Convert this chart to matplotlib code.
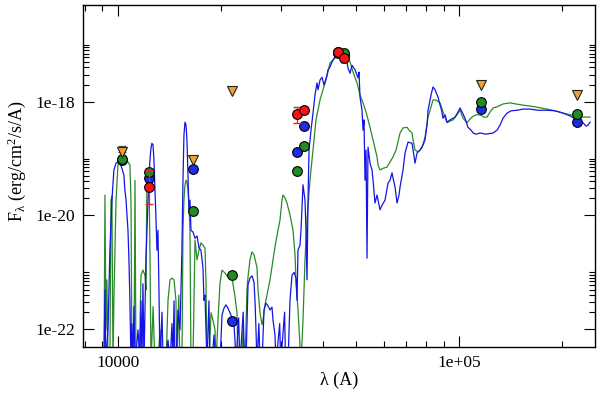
import numpy as np
import matplotlib
matplotlib.use('Agg')
import matplotlib.pyplot as plt
from matplotlib.ticker import FixedLocator, NullFormatter, FixedFormatter

plt.rcParams['font.family'] = 'Liberation Serif'
plt.rcParams['mathtext.fontset'] = 'custom'
plt.rcParams['mathtext.rm'] = 'Liberation Serif'
plt.rcParams['mathtext.it'] = 'Liberation Serif:italic'

# model spectra: wavelength (micron) and log10 flux (erg/cm2/s/A); -22.6 = below plot floor
blue_wl = [0.912, 0.918, 0.924, 0.937, 0.949, 0.962, 0.975, 0.989, 1.002, 1.016, 1.029, 1.043, 1.050,
           1.058, 1.065, 1.072, 1.079, 1.086, 1.094, 1.101, 1.108, 1.116, 1.124, 1.147, 1.162, 1.170,
           1.178, 1.186, 1.194, 1.210, 1.227, 1.243,
           1.252, 1.260, 1.269, 1.277, 1.286, 1.295, 1.303, 1.312, 1.321, 1.330, 1.348, 1.358, 1.375,
           1.404, 1.423, 1.442, 1.452, 1.462, 1.472,
           1.481, 1.502, 1.522, 1.542, 1.553, 1.563, 1.574, 1.585, 1.595, 1.606, 1.617, 1.628, 1.639,
           1.661, 1.684, 1.707, 1.730, 1.753, 1.777, 1.789, 1.801, 1.813, 1.826, 1.850, 1.862, 1.888,
           1.914, 1.940,
           1.993, 2.020, 2.047, 2.075, 2.103, 2.132, 2.161, 2.190, 2.205, 2.220, 2.260, 2.280, 2.330,
           2.350, 2.374, 2.407, 2.439,
           2.472, 2.506, 2.523, 2.540, 2.557, 2.590, 2.610, 2.645, 2.681, 2.717, 2.754, 2.792, 2.829,
           2.849, 2.887, 2.907, 2.980, 3.000, 3.080, 3.100, 3.152, 3.194, 3.238, 3.282, 3.326, 3.349,
           3.371, 3.417, 3.440, 3.487, 3.534, 3.558,
           3.582, 3.607, 3.631, 3.655, 3.680, 3.730, 3.781, 3.832, 3.858, 3.910, 3.963, 4.017, 4.099,
           4.127, 4.183, 4.240, 4.326, 4.414, 4.474, 4.535, 4.597, 4.691, 4.723, 4.787, 4.852, 4.951,
           5.052, 5.086, 5.120, 5.190, 5.225, 5.260, 5.296, 5.332, 5.368, 5.404, 5.477, 5.551, 5.589,
           5.665, 5.742, 5.859, 5.939, 6.060, 6.184, 6.268, 6.353, 6.396, 6.483, 6.571, 6.660, 6.705,
           6.842, 6.935, 7.077, 7.270, 7.319, 7.418, 7.519, 7.673, 7.830, 7.936, 8.043, 8.098, 8.263,
           8.375, 8.489, 8.663, 8.780, 8.839, 8.959, 9.081, 9.204, 9.392, 9.584, 9.714, 9.913, 10.05,
           10.18, 10.39, 10.60, 10.82, 10.97, 11.19, 11.50, 11.97, 12.55, 12.89, 13.16, 13.42, 13.79,
           14.17, 14.75, 15.36, 16.11, 17.00, 18.06, 19.06, 20.12, 21.09, 22.11, 23.02, 23.49, 23.81,
           24.13]
blue_logf = [-22.6, -21.31, -22.6, -22.01, -20.61, -19.73, -19.20, -19.08, -19.06, -19.08, -19.17, -19.29,
             -19.55, -19.73, -19.99, -20.26, -20.78, -21.49, -22.6, -21.9, -22.6, -21.6, -22.6, -22.01,
             -22.6, -21.5, -22.6, -21.2, -22.6, -20.78,
             -19.73, -19.02, -18.81, -18.73, -18.76, -19.02, -19.55, -20.08, -20.61, -20.26, -21.31,
             -22.6, -21.7, -22.6, -22.6, -22.19, -22.6, -21.9, -22.6, -21.5, -22.6,
             -22.6, -21.66, -22.01, -20.61, -19.38, -18.59, -18.36, -18.41,
             -18.67, -19.29, -19.90, -19.73, -20.26, -20.29, -20.40, -20.36, -20.57, -20.61, -20.92,
             -21.49, -21.40, -22.01, -22.6, -21.5, -22.6, -22.6, -22.10, -22.6, -22.6, -21.75, -21.63,
             -21.57, -21.63, -21.71, -21.80, -21.92, -22.19, -22.6, -21.8, -22.6, -21.7, -22.6,
             -22.6, -21.22, -21.10, -21.06, -21.17, -21.49, -22.01,
             -22.6, -21.9, -22.6, -22.6, -21.66, -21.54, -21.59, -21.66, -21.61, -21.84, -22.10, -22.6,
             -21.9, -22.6, -21.7, -22.6, -22.6, -21.49,
             -21.05, -21.00, -21.10, -21.49, -20.61, -20.52, -20.26, -19.46, -19.73, -20.26, -21.13,
             -19.73, -18.85, -18.67, -18.50, -18.20, -17.88, -17.67, -17.79, -17.62, -17.57, -17.71,
             -17.53, -17.44, -17.39, -17.30, -17.21, -17.18, -17.23, -17.32, -17.23, -17.30, -17.41,
             -17.50, -17.36, -17.44, -17.58, -17.48, -17.92, -18.15, -18.50, -18.32, -19.38, -18.85,
             -20.75, -18.80, -19.08, -19.20, -19.38, -19.78, -19.64, -19.90, -19.82, -19.73, -19.43,
             -19.38, -19.25, -19.34, -19.50, -19.78, -19.64, -19.50, -19.20, -18.90, -18.71, -18.73,
             -18.85, -19.08, -18.90, -18.85, -18.76, -18.67, -18.41, -18.15, -17.88, -17.74, -17.79,
             -17.92, -18.06, -18.11, -18.29, -18.23, -18.36, -18.32, -18.29, -18.27, -18.18, -18.11,
             -18.18, -18.29, -18.45, -18.50, -18.55, -18.57, -18.55, -18.57, -18.55, -18.50, -18.41,
             -18.29, -18.20, -18.16, -18.15, -18.13, -18.13, -18.15, -18.15, -18.16, -18.20, -18.25,
             -18.32, -18.37, -18.43, -18.41, -18.36]

green_wl = [0.912, 0.918, 0.924, 0.930, 0.937, 0.949, 0.956, 0.962, 0.969, 0.975, 0.989, 1.002, 1.016,
            1.029, 1.043, 1.058, 1.072, 1.086, 1.094, 1.101, 1.116, 1.124, 1.131, 1.147, 1.162, 1.170,
            1.186, 1.202, 1.210, 1.218, 1.227, 1.235, 1.243, 1.252, 1.270, 1.285, 1.312, 1.330, 1.348,
            1.385, 1.404,
            1.423, 1.442, 1.462, 1.481, 1.491, 1.510, 1.520, 1.542, 1.553, 1.563, 1.574, 1.585, 1.595,
            1.606, 1.617,
            1.628, 1.639, 1.661, 1.684, 1.707, 1.730, 1.753, 1.777, 1.801, 1.813, 1.826, 1.850, 1.876,
            1.901, 1.927, 1.940, 1.966, 1.993, 2.020, 2.061, 2.103, 2.132, 2.161, 2.190, 2.205, 2.235,
            2.250, 2.311, 2.327, 2.359, 2.390, 2.407, 2.439, 2.472, 2.506, 2.557, 2.575, 2.610, 2.645,
            2.663, 2.699, 2.754, 2.792, 2.849, 2.887, 2.946, 2.986, 3.027, 3.047, 3.088, 3.130, 3.194,
            3.260, 3.304, 3.326, 3.371, 3.417, 3.440, 3.487, 3.534, 3.582, 3.655, 3.730, 3.806, 3.910,
            3.990, 4.071, 4.183, 4.326, 4.474, 4.691, 4.787, 4.885, 5.018, 5.120, 5.225, 5.332, 5.477,
            5.589, 5.742, 5.781, 5.859, 5.979, 6.142, 6.268, 6.396, 6.527, 6.705, 6.842, 7.029, 7.124,
            7.270, 7.319, 7.418, 7.570, 7.673, 7.777, 7.936, 8.098, 8.208, 8.375, 8.547, 8.780, 8.959,
            9.204, 9.392, 9.584, 9.780, 10.05, 10.25, 10.53, 10.68, 10.89, 11.19, 11.50, 11.81, 12.05,
            12.30, 12.55, 12.89, 13.42, 14.07, 14.65, 15.36, 16.66, 18.06, 19.06, 20.12, 21.09, 22.11,
            23.02, 24.13]
green_logf = [-22.6, -19.64, -22.01, -21.13, -22.6, -22.6, -19.73, -19.66, -22.6, -21.49, -19.73, -19.11,
              -19.02, -19.02, -18.99, -19.02, -19.06, -19.11, -19.73, -22.6, -22.6, -19.38, -22.6, -22.6,
              -22.01, -21.05, -20.96, -21.05, -21.31, -19.38, -19.20, -19.29, -20.61, -22.6, -21.6,
              -22.6, -22.6, -22.01, -22.6, -22.6, -21.49,
              -21.13, -21.10, -21.13, -21.49, -22.6, -21.4, -22.6, -22.6, -20.26, -19.73,
              -19.46, -19.38, -19.41, -19.55, -19.82,
              -20.26, -22.6, -22.6, -20.43, -20.78, -20.61,
              -20.48, -20.52, -20.57, -21.13, -22.6, -22.6, -21.71, -21.84, -22.01, -22.6, -21.84, -21.19,
              -20.96, -21.01, -21.08, -21.06, -21.10, -21.31, -21.43, -21.71, -22.6, -22.6, -22.01, -22.6,
              -21.31, -21.08, -20.78, -20.64, -20.69, -20.91, -21.31, -21.71, -21.92, -21.84, -21.57,
              -21.31, -21.13, -20.78, -20.55, -20.26, -20.08, -19.73, -19.64, -19.69, -19.78, -19.99,
              -20.26, -20.69, -21.13, -21.66, -22.31, -22.6, -21.84, -20.78, -20.08, -19.38, -18.85,
              -18.32, -17.97, -17.79, -17.62, -17.32, -17.23, -17.18, -17.18, -17.30, -17.48, -17.67,
              -17.88, -18.02, -18.18, -18.45, -18.67, -18.97, -19.11, -19.20, -19.17, -19.15, -19.06,
              -18.97, -18.85, -18.55, -18.46, -18.45, -18.50, -18.55, -18.67, -18.85, -18.88, -18.85,
              -18.81, -18.62, -18.27, -18.15, -17.97, -17.97, -18.02, -18.18, -18.37, -18.34, -18.32,
              -18.25, -18.15, -18.29, -18.37, -18.32, -18.27, -18.23, -18.23, -18.27, -18.27, -18.18,
              -18.11, -18.09, -18.04, -18.02, -18.04, -18.06, -18.09, -18.13, -18.16, -18.20, -18.23,
              -18.25, -18.27, -18.27]

# photometry (micron, log10 flux)
obs_wl = [1.235, 3.349, 3.517, 4.423, 4.606]
obs_logf = [-19.50, -18.21, -18.15, -17.12, -17.23]
obs_err_lo = [0.30, 0.16, 0.0, 0.0, 0.0]
obs_err_hi = [0.30, 0.11, 0.0, 0.0, 0.0]

ul_wl = [1.027, 1.665, 2.156, 11.57, 22.15]
ul_logf = [-18.88, -19.02, -17.81, -17.71, -17.89]

mod_wl = [1.027, 1.235, 1.665, 2.156, 3.349, 3.517, 4.423, 4.606, 11.57, 22.15]
blue_phot = [-19.02, -19.34, -19.19, -21.85, -18.89, -18.43, -17.14, -17.18, -18.13, -18.36]
green_phot = [-19.01, -19.23, -19.92, -21.05, -19.22, -18.77, -17.13, -17.15, -18.00, -18.22]

fig = plt.figure(figsize=(6, 3.93), dpi=100)
ax = fig.add_axes([0.1388, 0.1178, 0.8529, 0.8702])

ax.plot(np.array(green_wl) * 1e4, 10 ** np.array(green_logf), color='#2a8a2a', lw=0.9)
ax.plot(np.array(blue_wl) * 1e4, 10 ** np.array(blue_logf), color='#1414e6', lw=0.9)

# upper limit error bar at Y
ax.errorbar([ul_wl[0] * 1e4], [10 ** ul_logf[0]], yerr=[[0], [10 ** -18.78 - 10 ** ul_logf[0]]],
            fmt='none', ecolor='#555555', capsize=3, lw=0.8, zorder=3)

mw = np.array(mod_wl) * 1e4
ax.plot(mw, 10 ** np.array(blue_phot), 'o', ms=7, mfc='#1a2ee8', mec='black', mew=0.8, zorder=4)
ax.plot(mw, 10 ** np.array(green_phot), 'o', ms=7, mfc='#238a23', mec='black', mew=0.8, zorder=5)

ow = np.array(obs_wl) * 1e4
of = 10 ** np.array(obs_logf)
lo = of - 10 ** (np.array(obs_logf) - np.array(obs_err_lo))
hi = 10 ** (np.array(obs_logf) + np.array(obs_err_hi)) - of
ax.errorbar(ow, of, yerr=[lo, hi], fmt='none', ecolor='#e8203c', capsize=3, lw=0.9, zorder=6)
ax.plot(ow, of, 'o', ms=7, mfc='#ff1010', mec='black', mew=0.8, zorder=7)

ax.plot(np.array(ul_wl) * 1e4, 10 ** np.array(ul_logf), 'v', ms=7, mfc='#f0a030', mec='#222222',
        mew=0.8, zorder=8)

ax.set_xscale('log')
ax.set_yscale('log')
ax.set_xlim(7932, 249500)
ax.set_ylim(4.94e-23, 5.07e-17)

ax.xaxis.set_major_locator(FixedLocator([1e4, 1e5]))
ax.xaxis.set_major_formatter(FixedFormatter(['10000', '1e+05']))
ax.xaxis.set_minor_locator(FixedLocator([m * 10.0 ** e for e in (3, 4, 5) for m in range(2, 10)]))
ax.xaxis.set_minor_formatter(NullFormatter())
ax.yaxis.set_major_locator(FixedLocator([1e-22, 1e-20, 1e-18]))
ax.yaxis.set_major_formatter(FixedFormatter(['1e-22', '1e-20', '1e-18']))
ax.yaxis.set_minor_locator(FixedLocator([m * 10.0 ** e for e in (-22, -20, -18) for m in range(2, 11)]))
ax.yaxis.set_minor_formatter(NullFormatter())

ax.tick_params(which='both', direction='in', top=True, right=True, width=0.8, labelsize=12.5)
ax.tick_params(which='major', length=8, pad=6)
ax.tick_params(which='minor', length=4)
for s in ax.spines.values():
    s.set_linewidth(1.0)

ax.set_xlabel('λ (A)', fontsize=13)
ax.set_ylabel(r'F$_\mathrm{λ}$ (erg/cm$^\mathrm{2}$/s/A)', fontsize=13)
ax.xaxis.set_label_coords(0.5, -0.072)
ax.yaxis.set_label_coords(-0.108, 0.543)

fig.savefig('out.png', dpi=100)
